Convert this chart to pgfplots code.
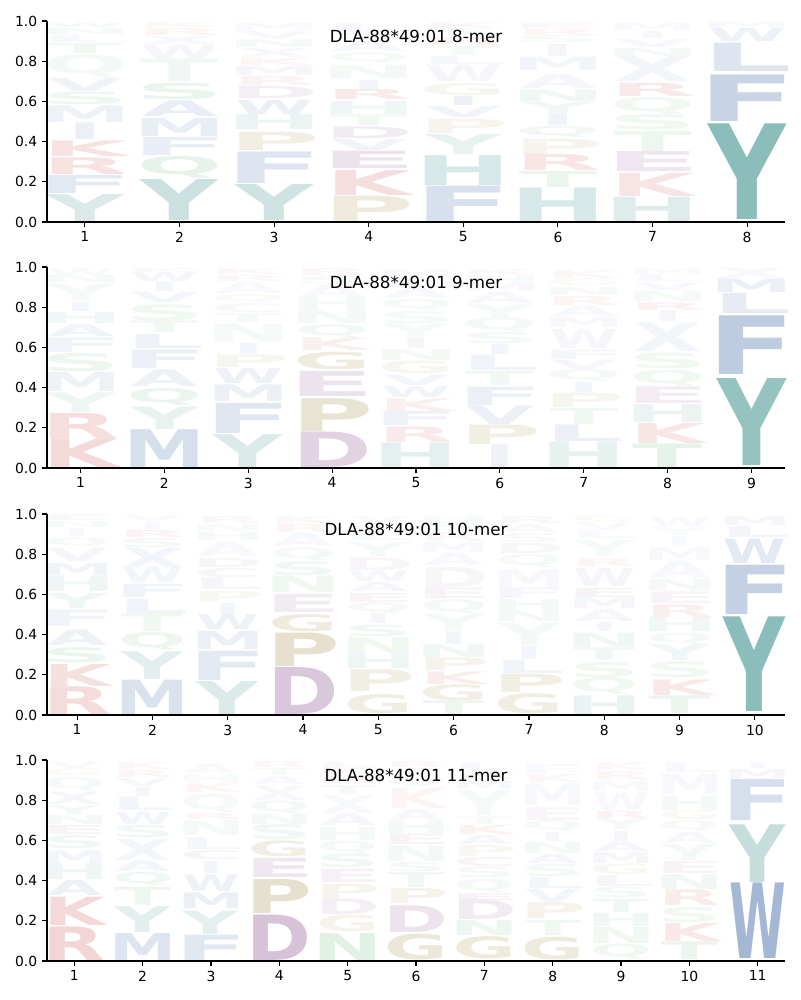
\documentclass[border=0pt]{standalone}
\usepackage{pgfplots}
\pgfplotsset{compat=1.18}
\usepackage{pgfplotstable}
\usepackage{fontspec}
\setmainfont{DejaVu Sans}

\definecolor{cteal}{RGB}{62,145,140}
\definecolor{cblue}{RGB}{70,110,170}
\definecolor{cred}{RGB}{190,50,45}
\definecolor{cpurple}{RGB}{120,55,125}
\definecolor{colive}{RGB}{140,120,30}
\definecolor{cgreen}{RGB}{60,160,80}
\colorlet{lcY}{cteal}\colorlet{lcH}{cteal}
\colorlet{lcF}{cblue}\colorlet{lcW}{cblue}\colorlet{lcM}{cblue}\colorlet{lcL}{cblue}
\colorlet{lcV}{cblue}\colorlet{lcI}{cblue}\colorlet{lcA}{cblue}\colorlet{lcX}{cblue}
\colorlet{lcK}{cred}\colorlet{lcR}{cred}
\colorlet{lcD}{cpurple}\colorlet{lcE}{cpurple}\colorlet{lcC}{cpurple}
\colorlet{lcP}{colive}\colorlet{lcG}{colive}
\colorlet{lcN}{cgreen}\colorlet{lcQ}{cgreen}\colorlet{lcS}{cgreen}\colorlet{lcT}{cgreen}

% box width (in column units) so that the ink is about 0.8 column wide
\pgfkeyssetvalue{/lw/A}{0.81}\pgfkeyssetvalue{/lw/C}{0.93}\pgfkeyssetvalue{/lw/D}{0.95}
\pgfkeyssetvalue{/lw/E}{1.03}\pgfkeyssetvalue{/lw/F}{1.05}\pgfkeyssetvalue{/lw/G}{0.93}
\pgfkeyssetvalue{/lw/H}{1.03}\pgfkeyssetvalue{/lw/I}{0.39}\pgfkeyssetvalue{/lw/K}{0.91}
\pgfkeyssetvalue{/lw/L}{0.96}\pgfkeyssetvalue{/lw/M}{0.98}\pgfkeyssetvalue{/lw/N}{1.03}
\pgfkeyssetvalue{/lw/P}{0.98}\pgfkeyssetvalue{/lw/Q}{0.91}\pgfkeyssetvalue{/lw/R}{0.92}
\pgfkeyssetvalue{/lw/S}{0.96}\pgfkeyssetvalue{/lw/T}{0.83}\pgfkeyssetvalue{/lw/V}{0.81}
\pgfkeyssetvalue{/lw/W}{0.83}\pgfkeyssetvalue{/lw/X}{0.83}\pgfkeyssetvalue{/lw/Y}{0.82}

\newcommand\glyph{%
  \edef\L{\pgfplotspointmeta}%
  \pgfkeysgetvalue{/lw/\L}\lwv
  \pgfmathsetlengthmacro\gwid{\lwv*\unitW}%
  \pgfmathsetlengthmacro\ght{\glyH*144.72}%
  \textcolor{lc\L}{\resizebox*{\gwid}{\ght}{\bfseries\L}}}

\pgfplotsset{
  logoaxis/.style={
    scale only axis, width=531.36pt, height=144.72pt,
    anchor=south west, ymin=0, ymax=1,
    axis on top,
    axis x line*=bottom, axis y line*=left,
    tick align=outside, major tick length=3.5pt,
    axis line style={line width=0.8pt},
    every tick/.style={black, line width=0.8pt},
    ytick={0,0.2,0.4,0.6,0.8,1.0},
    yticklabel style={/pgf/number format/.cd, fixed, fixed zerofill, precision=1},
    /pgf/number format/assume math mode=true,
    tick label style={font=\fontsize{10}{12}\selectfont},
    title style={at={(0.5,0.925)}, anchor=center, yshift=-6pt, font=\fontsize{12}{14}\selectfont},
    clip=false,
    after end axis/.append code={
      \draw[black, line width=0.8pt] (rel axis cs:0,1) -- (rel axis cs:0,0);
    },
  },
  logo/.style={
    draw=none, mark=none, point meta=explicit symbolic,
    nodes near coords={\glyph},
    nodes near coords align=vertical,
    visualization depends on={\thisrow{h}\as\glyH},
    visualization depends on={\thisrow{a}\as\glyA},
    every node near coord/.append style={anchor=south, inner sep=0pt, outer sep=0pt, text opacity=\glyA},
  }
}

\pgfplotstableread{
x y h a l
1 0.000 0.134 0.19 Y
1 0.143 0.090 0.15 F
1 0.237 0.083 0.14 R
1 0.325 0.078 0.14 K
1 0.408 0.083 0.10 I
1 0.496 0.083 0.09 M
1 0.582 0.063 0.09 S
1 0.648 0.066 0.08 V
1 0.723 0.110 0.06 Q
1 0.840 0.050 0.08 T
1 0.895 0.035 0.05 L
1 0.935 0.030 0.05 N
1 0.970 0.022 0.05 W
2 0.005 0.204 0.27 Y
2 0.217 0.108 0.12 Q
2 0.330 0.090 0.12 F
2 0.425 0.090 0.12 M
2 0.524 0.078 0.12 A
2 0.607 0.083 0.10 S
2 0.700 0.113 0.07 T
2 0.813 0.067 0.06 W
2 0.885 0.040 0.05 X
2 0.930 0.035 0.05 R
2 0.968 0.025 0.04 K
3 0.005 0.179 0.25 Y
3 0.192 0.157 0.18 F
3 0.358 0.091 0.12 P
3 0.458 0.075 0.10 H
3 0.536 0.071 0.10 W
3 0.612 0.061 0.08 D
3 0.680 0.045 0.06 R
3 0.730 0.045 0.06 M
3 0.780 0.035 0.05 K
3 0.820 0.045 0.05 X
3 0.870 0.040 0.05 N
3 0.915 0.035 0.05 V
3 0.955 0.035 0.04 M
4 0.000 0.126 0.15 P
4 0.134 0.124 0.16 K
4 0.264 0.086 0.14 E
4 0.358 0.055 0.08 V
4 0.416 0.058 0.10 D
4 0.479 0.053 0.08 T
4 0.536 0.066 0.08 H
4 0.607 0.050 0.10 R
4 0.660 0.045 0.07 I
4 0.715 0.066 0.06 N
4 0.790 0.050 0.05 Q
4 0.850 0.050 0.05 A
4 0.905 0.040 0.05 S
4 0.950 0.040 0.04 L
5 0.000 0.176 0.21 F
5 0.184 0.149 0.21 H
5 0.337 0.100 0.12 Y
5 0.441 0.071 0.08 P
5 0.519 0.055 0.08 V
5 0.579 0.045 0.10 I
5 0.628 0.061 0.07 G
5 0.698 0.083 0.06 W
5 0.784 0.038 0.06 L
5 0.830 0.045 0.05 T
5 0.880 0.040 0.05 R
5 0.925 0.035 0.04 S
5 0.962 0.030 0.04 K
6 0.000 0.167 0.21 H
6 0.171 0.080 0.10 T
6 0.254 0.080 0.12 R
6 0.337 0.076 0.08 P
6 0.419 0.055 0.07 Q
6 0.478 0.063 0.08 I
6 0.544 0.051 0.07 Y
6 0.600 0.058 0.07 N
6 0.662 0.070 0.06 A
6 0.756 0.066 0.07 M
6 0.825 0.060 0.06 I
6 0.890 0.035 0.05 S
6 0.928 0.030 0.05 R
6 0.962 0.028 0.04 E
7 0.000 0.121 0.17 H
7 0.126 0.116 0.13 K
7 0.250 0.100 0.12 E
7 0.353 0.100 0.09 T
7 0.458 0.075 0.08 S
7 0.536 0.083 0.08 Q
7 0.624 0.066 0.10 R
7 0.698 0.124 0.07 X
7 0.825 0.040 0.06 N
7 0.870 0.040 0.05 V
7 0.915 0.035 0.05 I
7 0.955 0.035 0.04 M
8 0.010 0.476 0.60 Y
8 0.502 0.232 0.29 F
8 0.748 0.141 0.18 L
8 0.897 0.066 0.09 W
8 0.967 0.026 0.05 M
}\tabA

\pgfplotstableread{
x y h a l
1 0.000 0.143 0.18 K
1 0.147 0.125 0.16 R
1 0.277 0.098 0.09 Y
1 0.380 0.095 0.09 M
1 0.480 0.092 0.09 S
1 0.577 0.073 0.08 F
1 0.655 0.058 0.08 A
1 0.717 0.055 0.07 H
1 0.777 0.045 0.07 I
1 0.830 0.087 0.05 Y
1 0.922 0.035 0.05 N
1 0.960 0.032 0.04 W
2 0.000 0.188 0.22 M
2 0.193 0.112 0.12 Y
2 0.313 0.083 0.10 Q
2 0.405 0.083 0.09 A
2 0.497 0.092 0.10 F
2 0.593 0.070 0.09 L
2 0.672 0.058 0.07 T
2 0.733 0.080 0.08 S
2 0.822 0.050 0.07 V
2 0.877 0.045 0.07 I
2 0.927 0.045 0.06 W
2 0.975 0.020 0.04 K
3 0.000 0.163 0.19 Y
3 0.172 0.150 0.17 F
3 0.330 0.083 0.10 M
3 0.422 0.075 0.09 W
3 0.500 0.063 0.07 P
3 0.567 0.055 0.07 I
3 0.627 0.087 0.05 N
3 0.722 0.042 0.05 T
3 0.772 0.045 0.04 C
3 0.822 0.040 0.04 Q
3 0.868 0.055 0.04 A
3 0.928 0.030 0.04 R
3 0.962 0.030 0.04 K
4 0.000 0.177 0.22 D
4 0.183 0.163 0.20 P
4 0.355 0.125 0.14 E
4 0.488 0.088 0.14 G
4 0.583 0.063 0.08 K
4 0.650 0.063 0.07 Q
4 0.717 0.067 0.06 N
4 0.788 0.058 0.06 H
4 0.850 0.063 0.05 A
4 0.918 0.035 0.05 S
4 0.957 0.035 0.04 R
5 0.000 0.122 0.14 H
5 0.127 0.078 0.10 R
5 0.210 0.070 0.09 F
5 0.283 0.063 0.08 K
5 0.350 0.055 0.08 W
5 0.410 0.053 0.07 V
5 0.467 0.063 0.07 G
5 0.533 0.055 0.06 N
5 0.593 0.050 0.06 I
5 0.647 0.067 0.05 Y
5 0.720 0.060 0.05 S
5 0.785 0.055 0.05 Q
5 0.845 0.050 0.05 A
5 0.900 0.045 0.04 L
5 0.950 0.040 0.04 M
6 0.000 0.113 0.09 I
6 0.117 0.097 0.12 P
6 0.217 0.093 0.10 V
6 0.313 0.092 0.10 F
6 0.410 0.070 0.07 T
6 0.483 0.077 0.08 L
6 0.563 0.050 0.07 I
6 0.617 0.055 0.06 S
6 0.677 0.070 0.06 Q
6 0.750 0.063 0.05 Y
6 0.820 0.055 0.05 A
6 0.880 0.045 0.05 M
6 0.930 0.030 0.04 N
6 0.965 0.025 0.04 K
7 0.000 0.127 0.13 H
7 0.130 0.083 0.10 L
7 0.217 0.080 0.08 T
7 0.300 0.072 0.07 P
7 0.375 0.052 0.07 I
7 0.430 0.058 0.06 Q
7 0.492 0.047 0.06 V
7 0.542 0.047 0.06 F
7 0.593 0.095 0.06 W
7 0.697 0.050 0.05 M
7 0.752 0.050 0.05 A
7 0.810 0.045 0.05 R
7 0.860 0.040 0.05 N
7 0.905 0.035 0.04 G
7 0.945 0.040 0.04 K
8 0.000 0.117 0.13 T
8 0.122 0.100 0.12 K
8 0.227 0.090 0.10 H
8 0.322 0.083 0.09 E
8 0.410 0.078 0.08 Q
8 0.493 0.078 0.08 S
8 0.580 0.142 0.07 X
8 0.727 0.053 0.06 I
8 0.783 0.038 0.07 R
8 0.827 0.050 0.05 N
8 0.882 0.040 0.05 V
8 0.928 0.035 0.04 L
8 0.965 0.028 0.04 M
9 0.010 0.433 0.55 Y
9 0.463 0.292 0.35 F
9 0.767 0.100 0.13 L
9 0.872 0.067 0.10 M
9 0.943 0.053 0.05 X
}\tabB

\pgfplotstableread{
x y h a l
1 0.000 0.138 0.17 R
1 0.143 0.110 0.15 K
1 0.259 0.075 0.10 S
1 0.347 0.078 0.09 A
1 0.441 0.083 0.08 F
1 0.532 0.075 0.08 Y
1 0.612 0.078 0.08 H
1 0.695 0.061 0.08 M
1 0.765 0.066 0.06 V
1 0.838 0.045 0.05 Q
1 0.888 0.040 0.05 I
1 0.933 0.030 0.04 N
1 0.967 0.028 0.04 E
2 0.000 0.171 0.20 M
2 0.176 0.138 0.15 Y
2 0.320 0.088 0.09 Q
2 0.413 0.090 0.08 T
2 0.507 0.071 0.08 L
2 0.585 0.066 0.08 F
2 0.657 0.075 0.07 W
2 0.735 0.096 0.07 X
2 0.834 0.046 0.06 S
2 0.884 0.035 0.06 R
2 0.925 0.035 0.04 I
2 0.963 0.030 0.04 V
3 0.000 0.164 0.18 Y
3 0.171 0.146 0.15 F
3 0.325 0.091 0.10 M
3 0.425 0.075 0.09 W
3 0.502 0.055 0.07 I
3 0.562 0.056 0.06 P
3 0.623 0.058 0.06 L
3 0.685 0.046 0.05 C
3 0.735 0.046 0.05 D
3 0.790 0.070 0.05 A
3 0.866 0.040 0.05 H
3 0.912 0.035 0.04 N
3 0.953 0.035 0.04 R
4 0.000 0.234 0.28 D
4 0.242 0.166 0.22 P
4 0.416 0.086 0.14 G
4 0.512 0.090 0.10 E
4 0.607 0.083 0.08 N
4 0.695 0.070 0.07 S
4 0.768 0.063 0.06 Q
4 0.839 0.066 0.05 A
4 0.910 0.040 0.05 R
4 0.955 0.035 0.04 K
5 0.005 0.096 0.13 G
5 0.118 0.108 0.12 P
5 0.230 0.073 0.09 H
5 0.308 0.078 0.08 N
5 0.391 0.058 0.07 S
5 0.453 0.050 0.06 I
5 0.507 0.050 0.06 Q
5 0.562 0.045 0.06 E
5 0.612 0.045 0.06 A
5 0.662 0.053 0.06 W
5 0.718 0.063 0.05 D
5 0.790 0.070 0.05 Y
5 0.868 0.045 0.04 L
5 0.918 0.035 0.04 T
5 0.958 0.030 0.04 V
6 0.000 0.068 0.09 T
6 0.071 0.080 0.11 G
6 0.154 0.063 0.09 K
6 0.220 0.063 0.09 P
6 0.287 0.063 0.07 N
6 0.353 0.063 0.07 I
6 0.420 0.080 0.06 Y
6 0.502 0.071 0.06 Q
6 0.578 0.053 0.06 E
6 0.635 0.100 0.05 D
6 0.745 0.060 0.05 A
6 0.810 0.050 0.05 M
6 0.865 0.045 0.04 R
6 0.915 0.040 0.04 S
6 0.958 0.032 0.04 H
7 0.005 0.100 0.13 G
7 0.110 0.091 0.12 P
7 0.204 0.066 0.08 L
7 0.275 0.066 0.07 I
7 0.347 0.110 0.06 Y
7 0.463 0.053 0.06 N
7 0.519 0.055 0.06 H
7 0.578 0.053 0.06 F
7 0.635 0.088 0.05 M
7 0.731 0.066 0.05 Q
7 0.802 0.050 0.05 D
7 0.858 0.045 0.04 S
7 0.908 0.040 0.04 A
7 0.953 0.035 0.04 R
8 0.000 0.093 0.11 H
8 0.101 0.083 0.08 Q
8 0.187 0.076 0.08 S
8 0.270 0.063 0.07 T
8 0.337 0.071 0.07 N
8 0.413 0.045 0.06 I
8 0.466 0.058 0.06 A
8 0.529 0.053 0.06 M
8 0.585 0.046 0.06 E
8 0.637 0.091 0.06 W
8 0.740 0.040 0.05 R
8 0.790 0.080 0.05 Y
8 0.878 0.040 0.04 L
8 0.925 0.035 0.04 V
8 0.963 0.030 0.04 G
9 0.005 0.088 0.10 T
9 0.098 0.078 0.11 K
9 0.184 0.080 0.08 S
9 0.270 0.080 0.07 Y
9 0.353 0.055 0.06 Q
9 0.413 0.070 0.07 H
9 0.486 0.063 0.08 R
9 0.557 0.058 0.06 E
9 0.618 0.055 0.06 N
9 0.678 0.086 0.05 A
9 0.768 0.063 0.05 M
9 0.838 0.050 0.04 I
9 0.893 0.040 0.04 Y
9 0.938 0.045 0.04 W
10 0.015 0.471 0.60 Y
10 0.502 0.245 0.32 F
10 0.756 0.121 0.15 W
10 0.884 0.055 0.07 L
10 0.943 0.045 0.06 M
}\tabC

\pgfplotstableread{
x y h a l
1 0.000 0.167 0.20 R
1 0.176 0.141 0.18 K
1 0.325 0.075 0.09 A
1 0.403 0.080 0.08 H
1 0.486 0.063 0.07 M
1 0.557 0.066 0.07 S
1 0.629 0.045 0.06 E
1 0.678 0.045 0.06 N
1 0.728 0.045 0.06 Y
1 0.778 0.061 0.06 X
1 0.847 0.066 0.05 Q
1 0.920 0.035 0.04 G
1 0.960 0.032 0.04 V
2 0.000 0.134 0.18 M
2 0.143 0.128 0.15 Y
2 0.275 0.091 0.09 T
2 0.375 0.066 0.08 Q
2 0.446 0.053 0.07 A
2 0.502 0.105 0.07 X
2 0.612 0.061 0.07 S
2 0.678 0.061 0.07 W
2 0.748 0.066 0.07 L
2 0.817 0.046 0.06 I
2 0.870 0.040 0.05 V
2 0.915 0.035 0.05 R
2 0.955 0.035 0.04 K
3 0.000 0.126 0.16 F
3 0.134 0.116 0.14 Y
3 0.259 0.078 0.10 M
3 0.347 0.083 0.09 W
3 0.436 0.060 0.07 I
3 0.502 0.046 0.06 C
3 0.557 0.058 0.06 L
3 0.624 0.075 0.05 N
3 0.705 0.030 0.05 R
3 0.740 0.090 0.05 Q
3 0.838 0.045 0.05 K
3 0.890 0.040 0.04 H
3 0.935 0.045 0.04 A
4 0.000 0.226 0.30 D
4 0.234 0.169 0.22 P
4 0.413 0.095 0.12 E
4 0.516 0.080 0.12 G
4 0.602 0.076 0.07 S
4 0.680 0.050 0.06 N
4 0.735 0.063 0.06 Q
4 0.800 0.071 0.05 X
4 0.880 0.040 0.04 A
4 0.925 0.035 0.04 T
4 0.963 0.030 0.04 R
5 0.000 0.134 0.15 N
5 0.143 0.083 0.09 G
5 0.230 0.078 0.08 D
5 0.313 0.070 0.08 P
5 0.391 0.066 0.07 E
5 0.463 0.070 0.07 S
5 0.536 0.060 0.06 Q
5 0.599 0.066 0.06 H
5 0.673 0.058 0.06 A
5 0.735 0.088 0.05 X
5 0.830 0.045 0.05 T
5 0.882 0.040 0.04 R
5 0.928 0.035 0.04 K
5 0.965 0.028 0.04 L
6 0.005 0.129 0.17 G
6 0.143 0.133 0.14 D
6 0.284 0.075 0.09 P
6 0.366 0.075 0.07 T
6 0.446 0.045 0.06 S
6 0.496 0.078 0.06 N
6 0.579 0.053 0.06 E
6 0.635 0.063 0.06 H
6 0.701 0.055 0.05 A
6 0.761 0.100 0.05 K
6 0.868 0.045 0.04 Q
6 0.918 0.040 0.04 I
6 0.962 0.030 0.04 R
7 0.010 0.111 0.15 G
7 0.126 0.075 0.09 N
7 0.204 0.096 0.10 D
7 0.300 0.033 0.07 E
7 0.342 0.066 0.06 Q
7 0.413 0.053 0.06 S
7 0.469 0.046 0.06 C
7 0.519 0.055 0.06 P
7 0.579 0.045 0.06 A
7 0.627 0.046 0.07 K
7 0.677 0.038 0.05 T
7 0.723 0.124 0.05 Y
7 0.853 0.045 0.05 M
7 0.905 0.040 0.04 R
7 0.950 0.040 0.04 L
8 0.005 0.113 0.15 G
8 0.126 0.075 0.08 T
8 0.209 0.078 0.09 P
8 0.292 0.066 0.07 V
8 0.363 0.053 0.07 L
8 0.420 0.063 0.06 S
8 0.486 0.046 0.06 A
8 0.536 0.055 0.06 N
8 0.595 0.045 0.06 I
8 0.645 0.053 0.05 Q
8 0.701 0.063 0.05 E
8 0.773 0.108 0.05 M
8 0.888 0.040 0.04 K
8 0.935 0.045 0.04 F
9 0.010 0.075 0.08 Q
9 0.088 0.080 0.08 N
9 0.171 0.066 0.07 H
9 0.242 0.066 0.07 T
9 0.313 0.053 0.06 S
9 0.370 0.055 0.06 L
9 0.430 0.053 0.06 G
9 0.486 0.055 0.06 M
9 0.546 0.045 0.06 A
9 0.595 0.050 0.06 I
9 0.652 0.055 0.05 Y
9 0.711 0.036 0.06 R
9 0.750 0.088 0.05 W
9 0.845 0.050 0.04 M
9 0.900 0.045 0.04 R
9 0.950 0.040 0.04 K
10 0.005 0.088 0.10 T
10 0.098 0.090 0.11 K
10 0.192 0.075 0.08 S
10 0.275 0.078 0.09 R
10 0.358 0.075 0.07 N
10 0.436 0.060 0.06 E
10 0.502 0.080 0.06 Y
10 0.585 0.055 0.05 A
10 0.645 0.053 0.05 Q
10 0.701 0.046 0.05 G
10 0.751 0.071 0.06 H
10 0.830 0.100 0.05 M
10 0.937 0.050 0.04 L
11 0.010 0.376 0.49 W
11 0.393 0.287 0.30 Y
11 0.701 0.204 0.22 F
11 0.910 0.045 0.06 M
11 0.960 0.028 0.04 I
}\tabD

\begin{document}
\begin{tikzpicture}
\useasboundingbox (0,0) rectangle (576pt,720pt);

\def\unitW{68.123}
\begin{axis}[logoaxis, at={(33.84pt,560.16pt)}, xmin=0.6, xmax=8.4,
  xtick={1,...,8}, title={DLA-88*49:01 8-mer}]
\addplot[logo] table[x=x,y=y,meta=l] {\tabA};
\end{axis}

\def\unitW{60.382}
\begin{axis}[logoaxis, at={(33.84pt,383.04pt)}, xmin=0.6, xmax=9.4,
  xtick={1,...,9}, title={DLA-88*49:01 9-mer}]
\addplot[logo] table[x=x,y=y,meta=l] {\tabB};
\end{axis}

\def\unitW{54.22}
\begin{axis}[logoaxis, at={(33.84pt,205.2pt)}, xmin=0.6, xmax=10.4,
  xtick={1,...,10}, title={DLA-88*49:01 10-mer}]
\addplot[logo] table[x=x,y=y,meta=l] {\tabC};
\end{axis}

\def\unitW{49.2}
\begin{axis}[logoaxis, at={(33.84pt,28.08pt)}, xmin=0.6, xmax=11.4,
  xtick={1,...,11}, title={DLA-88*49:01 11-mer}]
\addplot[logo] table[x=x,y=y,meta=l] {\tabD};
\end{axis}
\end{tikzpicture}
\end{document}
